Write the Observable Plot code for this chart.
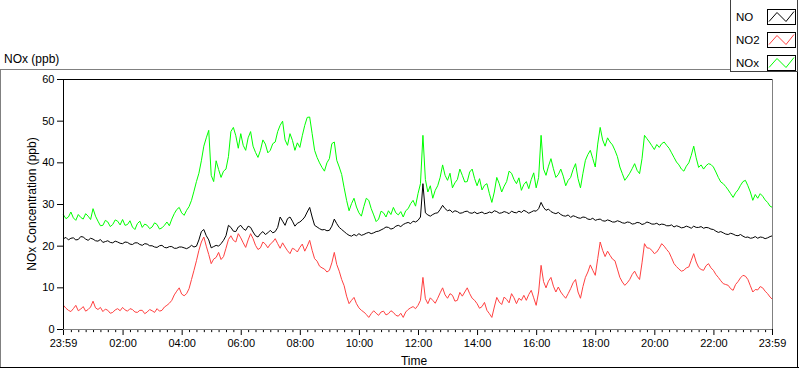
<!DOCTYPE html>
<html><head><meta charset="utf-8">
<script src="https://cdn.jsdelivr.net/npm/d3@7"></script>
<script src="https://cdn.jsdelivr.net/npm/@observablehq/plot@0.6"></script>
<style>
body{margin:0;background:#fff;}
#wrap{position:relative;width:800px;height:369px;overflow:hidden;font-family:"Liberation Sans",Arial,sans-serif;background:#fff;}
#wrap svg{position:absolute;left:0;top:0;}
</style></head><body><div id="wrap"></div>
<script>
// sample times: minutes after midnight, every 5 minutes from 23:59 to 23:59
const startMinute = -1, stepMinutes = 5;
const NOx = [
 27.5,26.6,27,28.2,26.8,26.2,27.6,26.9,26.5,27.8,27.2,26.4,
 29,27.2,26,24.9,25,26.2,25.8,24.7,25.2,26.3,26,25.1,
 26.4,25,25.2,26.1,24.6,24,25.4,26,24.5,25.3,25,24.2,
 24.6,25.6,25.2,24.1,24.4,25,25.8,24.9,26.5,27.8,28.8,29.3,
 28,27.4,28.6,29.5,31,33.2,35.5,37.5,40.5,44,46,47.8,
 37,35.5,40.5,38.4,36.5,38,38.5,41.5,47.5,48.5,46.5,43.5,
 47,44.2,43,46,47.5,44,42.5,41.3,43,45.5,44.5,42.4,
 43,44.6,45,47.5,49,50,45.5,44.2,47,45.4,43,44.8,
 43.7,46.5,49,50.9,51,47,43,41.3,40,38.9,38,40,
 41,44.6,45,40.6,39,37.2,34,31,28.5,30.2,31.5,29.4,
 28,27.2,29.5,31.5,31,29,27.5,25.9,26.5,28.4,28,27,
 28.5,27.6,29.3,28,27.5,28.3,27,28.5,29,30.2,31,29.6,
 32.6,35,46.6,36,33,34.5,31.5,33.4,34.5,36.5,39.5,37,
 35.8,37.5,34,35.2,36,38.5,37,35.4,35.5,37.8,38.5,36.2,
 34.5,36.2,33.5,34.6,35,32.6,30.5,33,36.5,35,33,34.4,
 35.5,38,37.5,36,35,36.4,33.4,34.8,35.5,33.8,36,37.6,
 34,36.5,46.6,38.5,37,39.2,41,38.6,36.5,37.2,38.5,36.8,
 34.5,35.8,36.5,38.4,39.8,36.2,34,37.5,40.6,42,43,41,
 39,44.5,48.5,45.5,44,46,45,44.3,43,41.5,39,37.4,
 35.8,36.6,37.5,38.6,39.8,38.2,37.4,41,46.6,45.8,45,44.1,
 43.2,44.4,43.7,44.6,45,44.2,43.5,42.4,41.3,40.2,39.5,38.5,
 38,39.2,40,41.8,44,41.2,38.9,39.5,38.5,39.3,39.8,39.6,
 39,37.8,36.5,35.4,35,34.3,33.5,32.6,31.7,32.8,33.5,34.6,
 35.5,35.8,34.5,33,31,32.4,31.5,32.6,32,31.1,30.5,29.6,
 29.3];
const NO = [
 21.8,22.1,21.5,21.9,22,21.5,21.6,22.3,22.2,21.7,21.4,21.9,
 21.7,21.3,21.2,21.6,20.9,21.1,21.3,20.9,20.8,21.2,21,20.7,
 20.6,21,20.9,20.5,20.4,20.8,20.8,20.4,20.2,20.6,20.5,20.1,
 20.1,19.8,19.7,20.1,20.2,19.7,19.6,19.9,19.9,19.5,19.5,19.8,
 19.8,19.6,19.4,19.7,20.2,19.8,20,21.5,23.5,24,22.5,21.5,
 19.6,19.9,20.2,20,20.6,21.4,22.5,25,24.5,23.6,23.5,24.6,
 25,24.2,23.8,24.8,24.5,23.4,22.5,22.2,23,23.5,22.8,23.2,
 23.8,23.2,23.5,24.5,27,26,25,26.6,27,26,24.8,25.5,
 25.8,26.3,27,28.2,29.3,27,25,24.6,24.2,23.9,24,23.7,
 23.8,24.8,26.5,25.4,24.5,24,23.5,23,22.6,22.4,22.8,22.5,
 23,22.6,22.8,23.1,23.3,23,23.2,23.5,23.6,23.9,24.2,24.6,
 24.5,24.1,24.3,24.8,25,24.7,25.2,25.5,25.7,25.4,26,25.8,
 26.2,27,35,28,27.5,27.2,27.6,27.9,28,28.8,29.8,29,
 28.5,28.7,28.1,28.5,28.3,27.9,28,28.3,28.4,28,27.9,28.2,
 27.8,28,28.2,27.8,27.9,28.2,28,28.5,28.3,27.9,28,28.3,
 28.1,27.8,28.4,28.1,28,28.4,28.1,28.6,28.3,27.9,28.2,28.5,
 28.4,29,30.5,29.3,28.6,28.9,28.3,28,27.8,28.1,27.6,27.3,
 27.2,27.5,26.9,27.3,27.1,26.8,26.7,27,26.9,26.5,26.4,26.7,
 26.2,26.4,26.5,26.1,26,26.3,26.1,25.8,25.8,26.1,25.9,25.6,
 25.5,25.8,25.7,25.3,25.4,25.7,25.6,25.2,25.4,25.8,25.6,25.3,
 25.3,25.5,25.1,25.3,25.2,24.9,24.9,25.1,24.6,24.9,24.7,24.4,
 24.5,24.8,24.6,24.3,24.8,24.5,24.5,24.7,24.3,24.5,24.4,24.1,
 24,23.6,23.3,23.5,23.2,22.9,22.8,23.1,22.9,22.6,22.5,22.8,
 22.4,22.1,22.2,21.9,22,22.3,21.9,22.2,22.1,21.8,22,22.3,
 22.5];
const NO2 = [
 5.8,5.1,4.6,4.3,5,5.8,4.5,4.9,5.5,4.4,4.8,5.4,
 6.8,5.2,4.8,5.3,4.3,4.9,4.6,3.9,4.1,4.7,5,4.5,
 5.3,4.7,4.4,5,4.8,4.2,4.1,4.6,4.6,3.8,4.2,4.8,
 4.5,4.1,5,4.4,4.6,5.4,5.8,6.3,7,8.3,9.2,10,
 8.5,8.1,8.6,9.8,12,14.2,16.5,19,21,22.2,20,18,
 15.8,16.9,17.3,18.5,16.8,17.5,19.5,21.6,22.5,21.4,21,23,
 22,20.8,19.7,21.5,23,21.8,20.2,19.2,19.6,21,20.5,19.6,
 20.5,21,21.8,20.6,19.5,20.8,19.8,18.9,18.2,19.5,19.2,18.6,
 19.7,20.5,18.8,20,21.4,19,17,16.4,15.2,14.8,14.5,13.8,
 14.2,16,18.5,15.6,14,12,10.5,8,6.2,7,7.7,6.2,
 5.2,4.6,4.2,3.6,2.9,3.8,4.5,3.9,3.4,4.2,4.4,3.5,
 3.8,4.5,4.1,3.4,3.2,3.9,2.9,4.2,4.8,5.2,5.5,5,
 5.8,7,12.5,7.4,6.2,7.6,7,6.3,7.5,8.8,10,8.3,
 7.5,8.6,8.2,6.8,7,8.9,8,9,10,8.6,7.5,7,
 6.2,5.1,5.5,6.5,4.6,3.8,2.9,5.4,7.7,6.6,6,7.8,
 7.2,6.4,8.6,7.6,6.2,7.5,7,8.2,7,8.4,9.4,7.6,
 5.8,9,15.4,11.5,10,11.6,12.5,10.4,9,10.2,9,8.2,
 7.5,8.6,9.8,11.2,12,9,7.5,10.3,12.5,13.8,15.5,14.2,
 13,17,21,19,17.5,18.8,17.8,16.9,16.5,14.5,12.5,11.4,
 10.6,11.2,12,13.2,14,12.8,12,16,20.6,19.6,19.5,19,
 18.2,18.6,19.5,20.6,20,19.2,18.5,17.2,15.8,15.1,14.5,14,
 14.2,14.8,15,16.6,18.2,16.2,14.9,14.4,14.2,15.3,15.8,14.8,
 14.2,13.2,12.5,11.7,11,10.8,10.6,9.8,9.4,10.8,11.5,12.4,
 13,12.8,12,10.5,9,9.6,9.5,10.3,10,9.2,8.6,7.8,
 7.2];
const seriesNames = ["NO", "NO2", "NOx"];
const seriesColors = ["#000000", "#ff4040", "#00ff00"];
const majorTicks = [-1,120,240,360,480,600,720,840,960,1080,1200,1320,1439];
const majorLabels = ["23:59","02:00","04:00","06:00","08:00","10:00","12:00","14:00","16:00","18:00","20:00","22:00","23:59"];
const yTicks = [0,10,20,30,40,50,60];
const minorTicks = d3.range(15, 1439, 15).filter(m => m % 120 !== 0);

const data = NOx.map((v, i) => ({t: startMinute + i*stepMinutes, NOx: v, NO: NO[i], NO2: NO2[i]}));
const wrap = document.getElementById("wrap");

const chart = Plot.plot({
  width: 800, height: 369,
  marginLeft: 63, marginRight: 28, marginTop: 79, marginBottom: 40,
  style: {fontFamily: '"Liberation Sans", Arial, sans-serif', fontSize: "11px", color: "#000", background: "transparent", overflow: "visible"},
  x: {domain: [-1, 1439], ticks: majorTicks, tickFormat: d => majorLabels[majorTicks.indexOf(d)], tickSize: 6, tickPadding: 4, label: null},
  y: {domain: [0, 60], ticks: yTicks, tickSize: 6, tickPadding: 3, label: null},
  marks: [
    Plot.ruleX(minorTicks, {x: d => d, y1: 0, y2: -0.75, stroke: "#000"}),
    Plot.line(data, {x: "t", y: "NOx", stroke: seriesColors[2], strokeWidth: 1}),
    Plot.line(data, {x: "t", y: "NO2", stroke: seriesColors[1], strokeWidth: 1}),
    Plot.line(data, {x: "t", y: "NO", stroke: seriesColors[0], strokeWidth: 1}),
    Plot.ruleY([60], {stroke: "#000"}),
    Plot.ruleY([0], {stroke: "#808080"}),
    Plot.ruleX([-1], {stroke: "#000"}),
    Plot.ruleX([1439], {stroke: "#808080"})
  ]
});
wrap.appendChild(chart);

// decorations: panel frame, title, axis labels, legend
const ns = "http://www.w3.org/2000/svg";
const deco = document.createElementNS(ns, "svg");
deco.setAttribute("width", 800); deco.setAttribute("height", 369);
deco.style.fontFamily = '"Liberation Sans", Arial, sans-serif';
function el(tag, attrs, text) {
  const e = document.createElementNS(ns, tag);
  for (const k in attrs) e.setAttribute(k, attrs[k]);
  if (text != null) e.textContent = text;
  deco.appendChild(e);
  return e;
}
el("line", {x1: 0, y1: 69.5, x2: 731, y2: 69.5, stroke: "#808080"});
el("line", {x1: 0.5, y1: 69, x2: 0.5, y2: 368, stroke: "#808080"});
el("line", {x1: 0, y1: 367.5, x2: 799, y2: 367.5, stroke: "#000"});
el("line", {x1: 797.5, y1: 0, x2: 797.5, y2: 368, stroke: "#000"});
el("text", {x: 4, y: 63, "font-size": 12, fill: "#000"}, "NOx (ppb)");
el("text", {x: 414, y: 365, "font-size": 12, "text-anchor": "middle", fill: "#000"}, "Time");
el("text", {transform: "translate(36,204) rotate(-90)", "font-size": 12, "text-anchor": "middle", fill: "#000"}, "NOx Concentration (ppb)");
// legend
el("rect", {x: 730.5, y: -1, width: 67, height: 72.5, fill: "#fff", stroke: "#404040"});
seriesNames.forEach((name, i) => {
  const y0 = 9.5 + i*23;
  el("text", {x: 736, y: y0 + 11, "font-size": 11.5, fill: "#000"}, name);
  el("rect", {x: 767.5, y: y0, width: 28, height: 15, fill: "#fff", stroke: "#000"});
  el("polyline", {points: `769,${y0+12} 777,${y0+3} 786,${y0+12} 794,${y0+2}`, fill: "none", stroke: seriesColors[i], "stroke-width": 1});
});
wrap.appendChild(deco);
</script></body></html>
